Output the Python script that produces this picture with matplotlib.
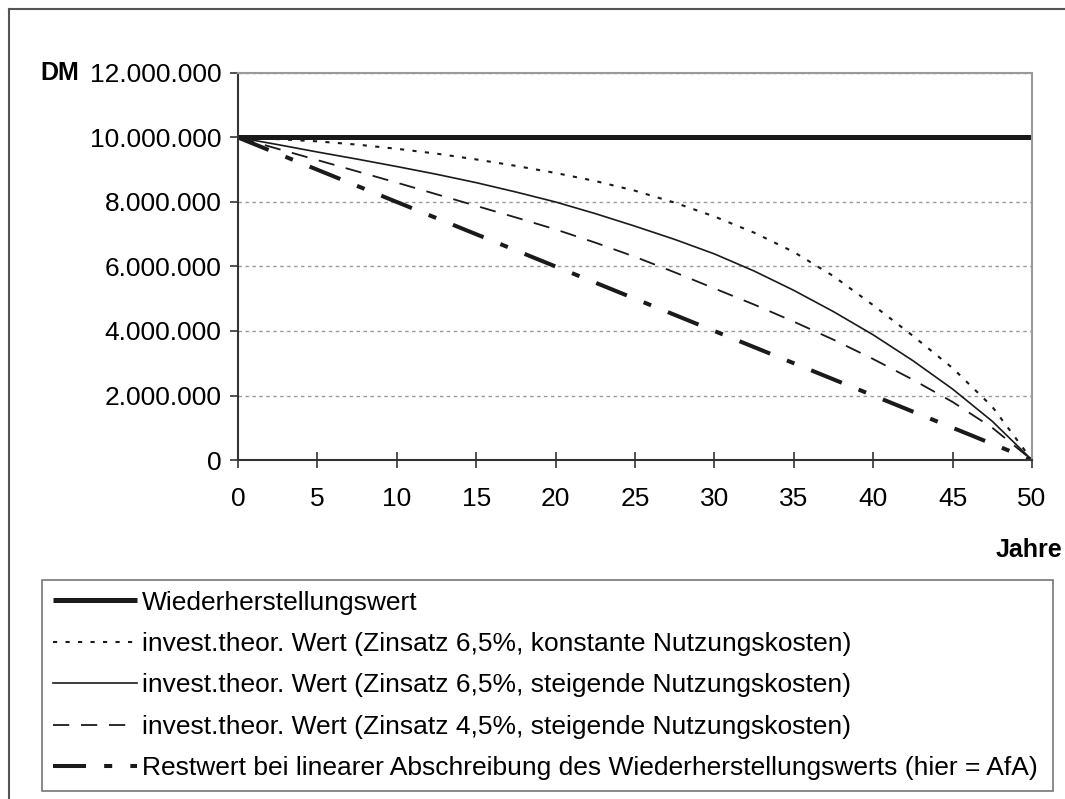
import matplotlib.pyplot as plt
import numpy as np
from matplotlib.ticker import FuncFormatter

plt.rcParams['font.family'] = ['Liberation Sans', 'DejaVu Sans']

# Jahre
years = [0, 2.5, 5, 7.5, 10, 12.5, 15, 17.5, 20, 22.5, 25,
         27.5, 30, 32.5, 35, 37.5, 40, 42.5, 45, 47.5, 50]
# Werte in Mio. DM
wiederherstellung = [10] * 21
zins65_konstant = [10, 9.95, 9.88, 9.78, 9.65, 9.5, 9.32, 9.12, 8.9, 8.65, 8.35,
                   7.98, 7.55, 7.05, 6.45, 5.7, 4.8, 3.85, 2.85, 1.65, 0]
zins65_steigend = [10, 9.78, 9.55, 9.33, 9.1, 8.86, 8.6, 8.31, 8.0, 7.64, 7.25,
                   6.84, 6.39, 5.86, 5.26, 4.6, 3.88, 3.08, 2.2, 1.2, 0]
zins45_steigend = [10, 9.65, 9.3, 8.95, 8.6, 8.24, 7.88, 7.52, 7.15, 6.74, 6.3,
                   5.82, 5.32, 4.82, 4.29, 3.73, 3.13, 2.49, 1.8, 1.0, 0]
restwert_linear = [10, 9.5, 9, 8.5, 8, 7.5, 7, 6.5, 6, 5.5, 5,
                   4.5, 4, 3.5, 3, 2.5, 2, 1.5, 1, 0.5, 0]

labels = [
    'Wiederherstellungswert',
    'invest.theor. Wert (Zinsatz 6,5%, konstante Nutzungskosten)',
    'invest.theor. Wert (Zinsatz 6,5%, steigende Nutzungskosten)',
    'invest.theor. Wert (Zinsatz 4,5%, steigende Nutzungskosten)',
    'Restwert bei linearer Abschreibung des Wiederherstellungswerts (hier = AfA)',
]

W, H = 1065, 799
fig = plt.figure(figsize=(W / 100, H / 100), dpi=100)
ax = fig.add_axes([238 / W, 1 - 460 / H, (1032 - 238) / W, (460 - 73) / H])

ink = '#1a1a1a'
m = 1e6
ax.plot(years, np.array(wiederherstellung) * m, color=ink, lw=3.6, solid_capstyle='butt')
ax.plot(years, np.array(zins65_konstant) * m, color=ink, lw=1.5, linestyle=(0, (2, 4)))
ax.plot(years, np.array(zins65_steigend) * m, color=ink, lw=1.2)
ax.plot(years, np.array(zins45_steigend) * m, color=ink, lw=1.3, linestyle=(0, (9, 6.5)))
ax.plot(years, np.array(restwert_linear) * m, color=ink, lw=2.9,
        linestyle=(0, (8.2, 4.5, 2, 4.5)))

ax.set_xlim(0, 50)
ax.set_ylim(0, 12e6)
ax.set_xticks(range(0, 51, 5))
ax.set_yticks(np.arange(0, 12e6 + 1, 2e6))
ax.yaxis.set_major_formatter(FuncFormatter(lambda v, p: f'{int(round(v)):,}'.replace(',', '.')))
ax.grid(axis='y', color='#9a9a9a', lw=1, linestyle=(0, (2.5, 2.5)))
ax.set_axisbelow(True)

for s in ['left', 'bottom']:
    ax.spines[s].set_color('#333333')
    ax.spines[s].set_linewidth(1.5)
for s in ['top', 'right']:
    ax.spines[s].set_color('#9a9a9a')
    ax.spines[s].set_linewidth(1.5)

ax.tick_params(axis='y', direction='out', length=6, width=1.2, labelsize=19, pad=6, color='#333333')
ax.tick_params(axis='x', direction='inout', length=11, width=1.2, labelsize=19, pad=14, color='#333333')

fig.text(40 / W, 1 - 73 / H, 'DM', fontsize=18, fontweight='bold', va='center', ha='left')
fig.text(1062 / W, 1 - 550 / H, 'Jahre', fontsize=18, fontweight='bold', va='center', ha='right')

leg = fig.legend(ax.get_lines(), labels, loc='upper left',
                 bbox_to_anchor=(42 / W, 1 - 786 / H, (1053 - 42) / W, (786 - 580) / H),
                 mode='expand', fontsize=19, handlelength=3.2, handletextpad=0.2,
                 labelspacing=0.66, borderpad=0.4, borderaxespad=0, fancybox=False,
                 frameon=True)
leg.get_frame().set_edgecolor('#555555')
leg.get_frame().set_linewidth(1.2)

# outer border of the figure
fig.add_artist(plt.Line2D([9 / W, 9 / W], [0, 1 - 9 / H], color='#555555', lw=1.5))
fig.add_artist(plt.Line2D([9 / W, 1], [1 - 9 / H, 1 - 9 / H], color='#555555', lw=1.5))

fig.savefig('out.png', dpi=100)
